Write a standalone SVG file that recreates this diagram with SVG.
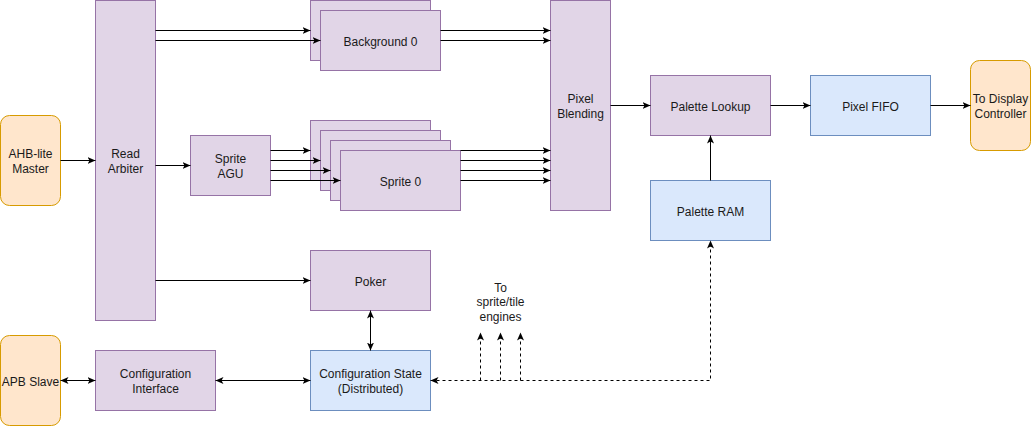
<svg xmlns="http://www.w3.org/2000/svg" width="1031" height="426" viewBox="0 0 1031 426">
<style>
.p{fill:#e1d5e7;stroke:#9673a6;stroke-width:1}
.b{fill:#dae8fc;stroke:#6c8ebf;stroke-width:1}
.o{fill:#ffe6cc;stroke:#d79b00;stroke-width:1}
text{font-family:"Liberation Sans",Arial,sans-serif;font-size:12px;fill:#1a1a1a;text-anchor:middle;dominant-baseline:central}
.c path{fill:none;stroke:#000;stroke-width:1}
.c .d{stroke-dasharray:3 3}
</style>
<defs>
<marker id="a" markerUnits="userSpaceOnUse" markerWidth="10" markerHeight="10" viewBox="0 0 10 10" refX="8" refY="5" orient="auto-start-reverse">
<path d="M0,1.5 L8,5 L0,8.5 L2,5 Z" fill="#000" stroke="none"/>
</marker>
</defs>
<g id="ahb"><rect class="o" x="0.5" y="115.5" width="60" height="90" rx="9"/><text x="30.5" y="154">AHB-lite</text><text x="30.5" y="169">Master</text></g>
<g id="arbiter"><rect class="p" x="95.5" y="0.5" width="60" height="320"/><text x="125.5" y="154">Read</text><text x="125.5" y="169">Arbiter</text></g>
<g id="agu"><rect class="p" x="190.5" y="135.5" width="80" height="60"/><text x="230.5" y="159">Sprite</text><text x="230.5" y="174">AGU</text></g>
<g id="bg1"><rect class="p" x="310.5" y="0.5" width="120" height="60"/></g>
<g id="bg0"><rect class="p" x="320.5" y="10.5" width="120" height="60"/><text x="380.5" y="42">Background 0</text></g>
<g id="sp3"><rect class="p" x="310.5" y="120.5" width="120" height="60"/></g>
<g id="sp2"><rect class="p" x="320.5" y="130.5" width="120" height="60"/></g>
<g id="sp1"><rect class="p" x="330.5" y="140.5" width="120" height="60"/></g>
<g id="sp0"><rect class="p" x="340.5" y="150.5" width="120" height="60"/><text x="400.5" y="182">Sprite 0</text></g>
<g id="blend"><rect class="p" x="550.5" y="0.5" width="60" height="210"/><text x="580.5" y="99">Pixel</text><text x="580.5" y="114">Blending</text></g>
<g id="lookup"><rect class="p" x="650.5" y="75.5" width="120" height="60"/><text x="710.5" y="107">Palette Lookup</text></g>
<g id="fifo"><rect class="b" x="810.5" y="75.5" width="120" height="60"/><text x="870.5" y="107">Pixel FIFO</text></g>
<g id="display"><rect class="o" x="970.5" y="60.5" width="60" height="90" rx="9"/><text x="1000.5" y="99">To Display</text><text x="1000.5" y="114">Controller</text></g>
<g id="pram"><rect class="b" x="650.5" y="180.5" width="120" height="60"/><text x="710.5" y="212">Palette RAM</text></g>
<g id="poker"><rect class="p" x="310.5" y="250.5" width="120" height="60"/><text x="370.5" y="282">Poker</text></g>
<g id="cstate"><rect class="b" x="310.5" y="350.5" width="120" height="60"/><text x="370.5" y="374">Configuration State</text><text x="370.5" y="389">(Distributed)</text></g>
<g id="cif"><rect class="p" x="95.5" y="350.5" width="120" height="60"/><text x="155.5" y="374">Configuration</text><text x="155.5" y="389">Interface</text></g>
<g id="apb"><rect class="o" x="0.5" y="335.5" width="60" height="90" rx="9"/><text x="30.5" y="382">APB Slave</text></g>
<g id="label"><text x="500.5" y="287.5">To</text><text x="500.5" y="302">sprite/tile</text><text x="500.5" y="316.5">engines</text></g>
<g id="connectors" class="c">
<path d="M60.5,160.5 L95.5,160.5" marker-end="url(#a)"/>
<path d="M155.5,165.5 L190.5,165.5" marker-end="url(#a)"/>
<path d="M155.5,30.5 L310.5,30.5" marker-end="url(#a)"/>
<path d="M155.5,40.5 L320.5,40.5" marker-end="url(#a)"/>
<path d="M440.5,30.5 L550.5,30.5" marker-end="url(#a)"/>
<path d="M440.5,40.5 L550.5,40.5" marker-end="url(#a)"/>
<path d="M270.5,150.5 L310.5,150.5" marker-end="url(#a)"/>
<path d="M270.5,160.5 L320.5,160.5" marker-end="url(#a)"/>
<path d="M270.5,170.5 L330.5,170.5" marker-end="url(#a)"/>
<path d="M270.5,180.5 L340.5,180.5" marker-end="url(#a)"/>
<path d="M460.5,150.5 L550.5,150.5" marker-end="url(#a)"/>
<path d="M460.5,160.5 L550.5,160.5" marker-end="url(#a)"/>
<path d="M460.5,170.5 L550.5,170.5" marker-end="url(#a)"/>
<path d="M460.5,180.5 L550.5,180.5" marker-end="url(#a)"/>
<path d="M155.5,280.5 L310.5,280.5" marker-end="url(#a)"/>
<path d="M610.5,105.5 L650.5,105.5" marker-end="url(#a)"/>
<path d="M770.5,105.5 L810.5,105.5" marker-end="url(#a)"/>
<path d="M930.5,105.5 L970.5,105.5" marker-end="url(#a)"/>
<path d="M710.5,180.5 L710.5,135.5" marker-end="url(#a)"/>
<path d="M370.5,310.5 L370.5,350.5" marker-start="url(#a)" marker-end="url(#a)"/>
<path d="M60.5,380.5 L95.5,380.5" marker-start="url(#a)" marker-end="url(#a)"/>
<path d="M215.5,380.5 L310.5,380.5" marker-start="url(#a)" marker-end="url(#a)"/>
<path class="d" d="M430.5,380.5 L710.5,380.5 L710.5,240.5" marker-start="url(#a)" marker-end="url(#a)"/>
<path class="d" d="M480.5,380.5 L480.5,332.5" marker-end="url(#a)"/>
<path class="d" d="M500.5,380.5 L500.5,332.5" marker-end="url(#a)"/>
<path class="d" d="M520.5,380.5 L520.5,332.5" marker-end="url(#a)"/>
</g>
</svg>
